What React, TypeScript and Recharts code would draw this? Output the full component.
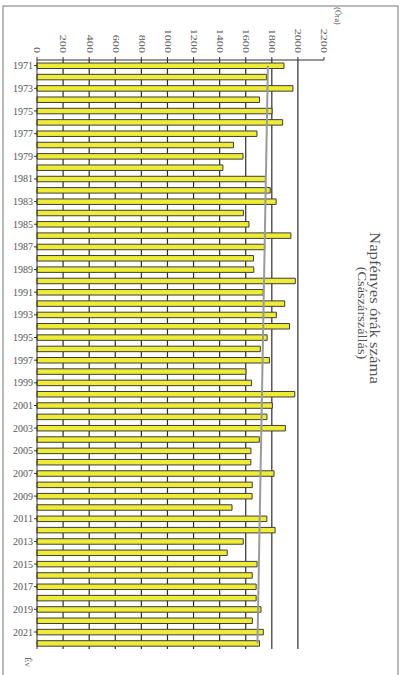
import { BarChart, Bar, XAxis, YAxis, CartesianGrid, ReferenceLine } from 'recharts';

// years on the category axis (drawn top to bottom)
const YEARS = [
  '1971', '1972', '1973', '1974', '1975', '1976', '1977', '1978', '1979', '1980',
  '1981', '1982', '1983', '1984', '1985', '1986', '1987', '1988', '1989', '1990',
  '1991', '1992', '1993', '1994', '1995', '1996', '1997', '1998', '1999', '2000',
  '2001', '2002', '2003', '2004', '2005', '2006', '2007', '2008', '2009', '2010',
  '2011', '2012', '2013', '2014', '2015', '2016', '2017', '2018', '2019', '2020',
  '2021', '2022',
];

// sunshine hours per year
const HOURS = [
  1893, 1759, 1962, 1706, 1802, 1883, 1686, 1506, 1579, 1425,
  1751, 1788, 1833, 1582, 1625, 1946, 1746, 1660, 1662, 1980,
  1734, 1899, 1835, 1936, 1764, 1712, 1782, 1602, 1645, 1976,
  1804, 1763, 1904, 1704, 1640, 1639, 1817, 1650, 1649, 1495,
  1762, 1825, 1581, 1458, 1687, 1650, 1680, 1680, 1717, 1651,
  1735, 1706,
];

const X_TICKS = [0, 200, 400, 600, 800, 1000, 1200, 1400, 1600, 1800, 2000, 2200];
const GRID_LINES = [200, 400, 600, 800, 1000, 1200, 1400, 1600, 1800, 2000];

// grey trend line, start (1971) and end (2022) values
const TREND = [1770, 1690];

const data = YEARS.map((year, i) => ({ year, hours: HOURS[i] }));

const serif = '"Liberation Serif", "DejaVu Serif", serif';

function TopTick(props: any) {
  const { x, y, payload } = props;
  return (
    <text
      x={0}
      y={0}
      transform={`translate(${x},${y - 2}) rotate(90) scale(1.35,0.85)`}
      textAnchor="end"
      dominantBaseline="central"
      fontSize={9}
      fill="#555"
      fontFamily={serif}
    >
      {payload.value}
    </text>
  );
}

// vertical grid at the named values (no line at 2200), placed with the axis scale
const gridX = ({ xAxis, offset }: any) =>
  GRID_LINES.map((v) =>
    xAxis && typeof xAxis.scale === 'function'
      ? xAxis.scale(v)
      : offset.left + (v / 2200) * offset.width
  );

export default function App() {
  return (
    <div style={{ position: 'absolute', left: 0, top: 0, width: 406, height: 675, background: '#fff' }}>
      <BarChart
        width={406}
        height={675}
        data={data}
        layout="vertical"
        margin={{ top: 0, right: 82, bottom: 26, left: 0 }}
      >
        <CartesianGrid
          horizontal={false}
          verticalCoordinatesGenerator={gridX}
          stroke="#2e2e2e"
          strokeWidth={1.2}
        />
        <XAxis
          type="number"
          orientation="top"
          domain={[0, 2200]}
          ticks={X_TICKS}
          interval={0}
          height={60}
          tick={<TopTick />}
          tickSize={3}
          axisLine={{ stroke: '#333' }}
          tickLine={{ stroke: '#333' }}
        />
        <YAxis
          type="category"
          dataKey="year"
          width={37}
          interval={1}
          tickSize={3}
          tickMargin={1}
          tick={{ fontSize: 10, fill: '#555', fontFamily: serif }}
          axisLine={{ stroke: '#333' }}
          tickLine={{ stroke: '#333' }}
        />
        <Bar dataKey="hours" fill="#eeec35" stroke="#3d3d3d" strokeWidth={1} barSize={5.5} isAnimationActive={false} />
        <ReferenceLine
          segment={[{ x: TREND[0], y: YEARS[0] }, { x: TREND[1], y: YEARS[YEARS.length - 1] }]}
          stroke="#9b9b9b"
          strokeWidth={2}
        />
      </BarChart>
      <svg width={406} height={675} style={{ position: 'absolute', left: 0, top: 0, pointerEvents: 'none' }}>
        <rect x={3} y={6} width={395} height={700} fill="none" stroke="#777" strokeWidth={1} />
        <text transform="translate(375,308) rotate(90) scale(1.2,1)" textAnchor="middle" dominantBaseline="central" fontSize={14} fill="#555" fontFamily={serif}>
          Napfényes órák száma
        </text>
        <text transform="translate(362,313) rotate(90) scale(1.2,1)" textAnchor="middle" dominantBaseline="central" fontSize={12} fill="#555" fontFamily={serif}>
          (Császárszállás)
        </text>
        <text transform="translate(337,16) rotate(90)" textAnchor="middle" dominantBaseline="central" fontSize={8} fill="#555" fontFamily={serif}>
          (Óra)
        </text>
        <text transform="translate(28,662) rotate(90)" textAnchor="middle" dominantBaseline="central" fontSize={9} fill="#555" fontFamily={serif}>
          Év
        </text>
      </svg>
    </div>
  );
}
